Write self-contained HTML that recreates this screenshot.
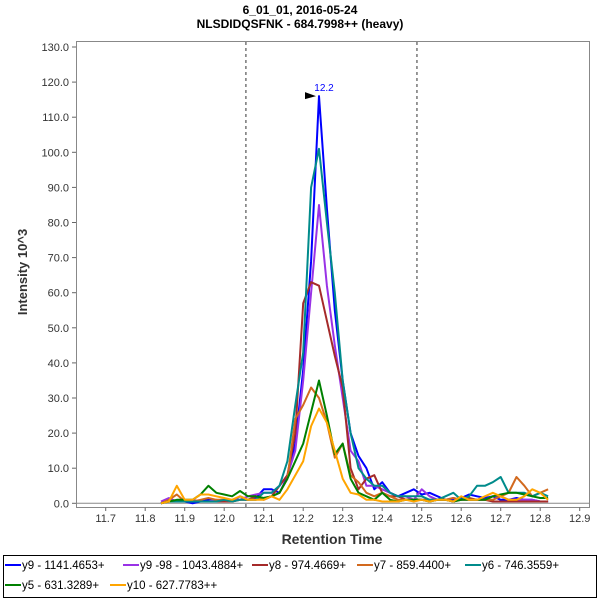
<!DOCTYPE html>
<html><head><meta charset="utf-8"><style>
body{margin:0;background:#fff;width:600px;height:600px;overflow:hidden;font-family:"Liberation Sans",sans-serif}
svg text{font-family:"Liberation Sans",sans-serif}
</style></head><body>
<svg id="chart" width="600" height="600">
<text x="300" y="14" text-anchor="middle" font-size="12" font-weight="bold">6_01_01, 2016-05-24</text>
<text x="300" y="28" text-anchor="middle" font-size="12" font-weight="bold">NLSDIDQSFNK - 684.7998++ (heavy)</text>
<rect x="76.5" y="41.5" width="513" height="466" fill="none" stroke="#888"/>
<g id="yaxis"></g><g id="xaxis"></g><g id="marks"></g><g id="series"></g>
<text transform="translate(27,272) rotate(-90)" text-anchor="middle" font-size="13" font-weight="bold" fill="#333">Intensity 10^3</text>
<text x="332" y="544" text-anchor="middle" font-size="14" font-weight="bold" fill="#333">Retention Time</text>
<rect x="3.5" y="555.5" width="593" height="42" fill="#fff" stroke="#000"/>
<g id="legend"></g>
</svg>
<script>
const times = [];
for (let i = 0; i < 50; i++) times.push(+(11.84 + 0.02 * i).toFixed(2));
const seriesNames = ["y9 - 1141.4653+","y9 -98 - 1043.4884+","y8 - 974.4669+","y7 - 859.4400+","y6 - 746.3559+","y5 - 631.3289+","y10 - 627.7783++"];
const seriesColors = ["#0000ff","#9932e6","#a52a2a","#d2691e","#008b8b","#008000","#ffa500"];
const y9 = [0,0.5,0.5,0.5,0,0.5,1,0.5,1,0.5,2,1,1.5,4,4,3,7.5,17,38,69,116,84,55,35,20,13.5,10,4,6,3,2,3,4,2.5,3,2,1,1,1.5,2.5,2,1.5,2,1,1,1.5,1,1,0.5,0.5];
const y9b = [0.5,1.5,0.5,0.5,1,0.5,0.5,1,0.5,1,1,2,2.5,3,3,5,8,15,35,60,85,62,45,30,15,12,5,5,4,3,2,2,1,4,2,1,1,1.5,1,1,1,1,2,2,1,1,1,1,0.5,0.5];
const y8 = [0,0.5,0.5,0.5,0.5,0.5,0.5,0.5,0.5,0.5,1,1,2,1,2,5,8,20,57,63,62,52,42,33,10,4,7,8,3,2,2,1,1,1,1,1,1,0.5,1,1.5,1,1,0.5,0.5,0.5,0.5,0.5,0.5,0.5,0.5];
const y7 = [0,1,2.5,0.5,0.5,1,1.5,1,1,0.5,1,1,1,1.5,2,3,7,24,28,33,30,23,13,17,8,6,3,2,3,2,1,1,1,1,0.5,1,1,1.5,1,1,1,1,1,2,3,7.5,5,2,3,4];
const y6 = [0,0.5,0.5,0.5,0.5,0.5,0.5,0.5,1,0.5,1,1,1,3,3,5,12,28,43,90,101,80,60,35,20,10,7,5,5,3,2,2,2,2,1,1,2,3,1,2,5,5,6,7.5,3,3,3,2,3,2];
const y5 = [0,0.5,1,1,1,2.5,5,3,2.5,2,3.5,2,2,1.5,2,3,7,12,17,26,35,25,14,17,7,3,2,1,3,1,0.5,1,1,1,0.5,1,1,0.5,1,1,1,1,2,2.5,3,3,2.5,2,1.5,1.5];
const y10 = [0,0.5,5,1,1,2.5,2.5,2,1.5,1,2,1,1,1,2,1,4,8,12,22,27,23,15,7,3,2.5,1,1,0.5,0.5,0.5,1,0.5,1,0.5,1,1,0.5,2,1,1,2,3,2,1,1,2,4,3,1];
const allSeries = [y9,y9b,y8,y7,y6,y5,y10];
const yTicks = [0,10,20,30,40,50,60,70,80,90,100,110,120,130];
const xTicks = [11.7,11.8,11.9,12.0,12.1,12.2,12.3,12.4,12.5,12.6,12.7,12.8,12.9];
const boundaries = [12.055,12.488];
const peakTime = 12.24, peakValue = 116, peakLabel = "12.2";

const NS = "http://www.w3.org/2000/svg";
function xs(t){return 105.7 + (t - 11.7) * 395;}
function ys(v){return 503.3 - v * 3.51;}
function mk(tag, attrs, parent, text){const e=document.createElementNS(NS,tag);for(const k in attrs)e.setAttribute(k,attrs[k]);if(text!==undefined)e.textContent=text;document.getElementById(parent).appendChild(e);return e;}

mk("line",{x1:76.5,y1:503.3,x2:589.5,y2:503.3,stroke:"#888"},"marks");
yTicks.forEach(v=>{
  const tk=mk("line",{x1:72,y1:ys(v),x2:76,y2:ys(v),stroke:"#666"},"yaxis");
  
  
  const lb=mk("text",{x:69,y:ys(v)+4,"text-anchor":"end","font-size":"11",fill:"#333"},"yaxis",v.toFixed(1));
  
  
});
xTicks.forEach(t=>{
  const tk=mk("line",{x1:xs(t),y1:507.5,x2:xs(t),y2:511,stroke:"#666"},"xaxis");
  
  
  const lb=mk("text",{x:xs(t),y:522,"text-anchor":"middle","font-size":"11",fill:"#333"},"xaxis",t.toFixed(1));
  
  
});
boundaries.forEach(t=>{
  const l=mk("line",{x1:xs(t),y1:42,x2:xs(t),y2:507,stroke:"#333","stroke-dasharray":"3,3"},"marks");
  
  
});
allSeries.forEach((arr,si)=>{
  const pts=arr.map((v,i)=>xs(times[i]).toFixed(1)+","+ys(v).toFixed(1)).join(" ");
  const p=mk("polyline",{points:pts,fill:"none",stroke:seriesColors[si],"stroke-width":"2","stroke-linejoin":"round"},"series");
  
  
});
const px=xs(peakTime), py=ys(peakValue);
const ar=mk("polygon",{points:(px-14)+","+(py-4)+" "+(px-3)+","+py+" "+(px-14)+","+(py+3)},"series");


const pl=mk("text",{x:px+5,y:py-5,"text-anchor":"middle","font-size":"10",fill:"#0000ff"},"series",peakLabel);


const legX=[5,123,252,357,465,5,110], legY=[569,569,569,569,569,589,589];
seriesNames.forEach((n,i)=>{
  const l=mk("line",{x1:legX[i],y1:legY[i]-4,x2:legX[i]+16,y2:legY[i]-4,stroke:seriesColors[i],"stroke-width":"2"},"legend");
  
  
  const t=mk("text",{x:legX[i]+17,y:legY[i],"font-size":"11.5",fill:"#000"},"legend",n);
  
  
});
</script>
</body></html>
